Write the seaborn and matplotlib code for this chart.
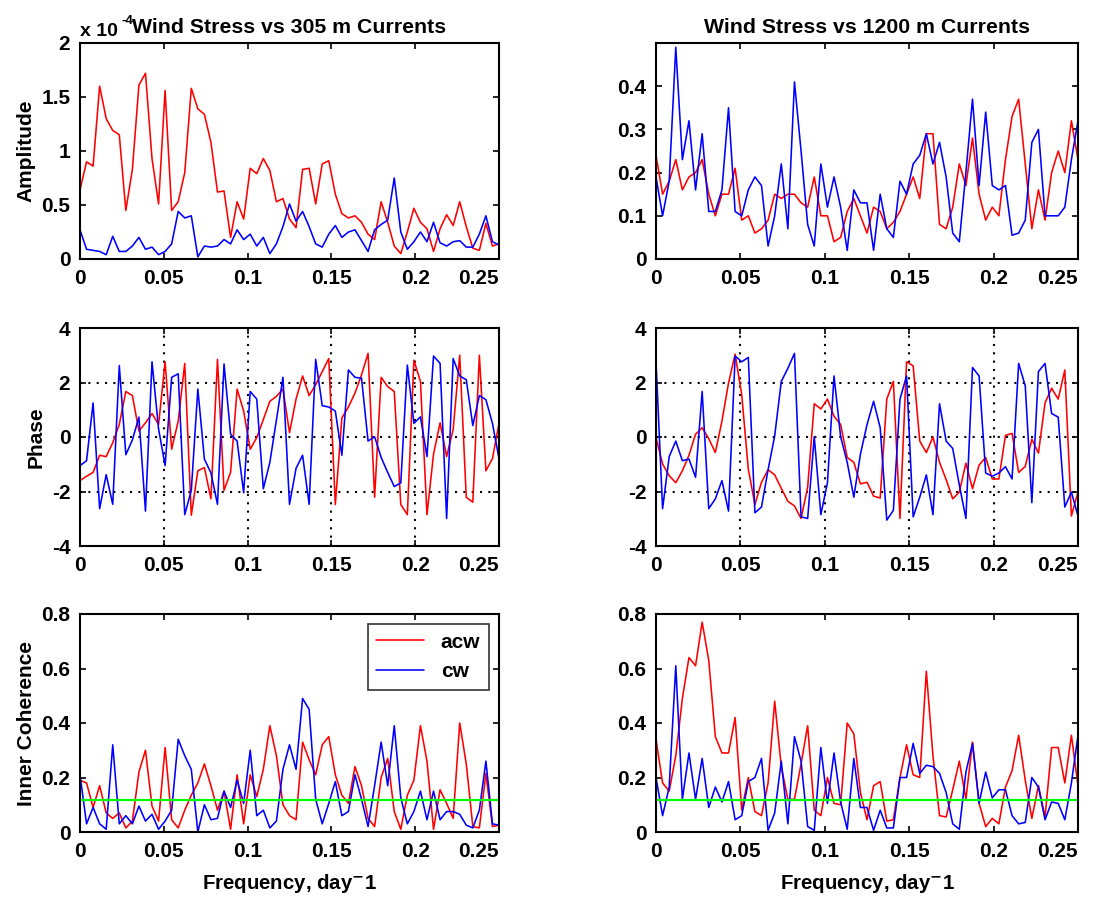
import numpy as np
import pandas as pd
import matplotlib
matplotlib.use("Agg")
import matplotlib.pyplot as plt
import seaborn as sns

# frequency grid, day^-1 (65 estimates, 0 .. 0.25)
freq = np.arange(65) / 256

# amplitude, 305 m (x 1e-4)
amp305_acw = [0.64, 0.90, 0.86, 1.60, 1.30, 1.19, 1.15, 0.45, 0.83, 1.61, 1.72, 0.93, 0.51, 1.56, 0.45, 0.53,
              0.80, 1.58, 1.39, 1.34, 1.08, 0.62, 0.63, 0.20, 0.53, 0.37, 0.84, 0.79, 0.93, 0.82, 0.53, 0.56,
              0.37, 0.29, 0.83, 0.84, 0.51, 0.88, 0.91, 0.60, 0.42, 0.38, 0.40, 0.34, 0.23, 0.18, 0.53, 0.34,
              0.12, 0.05, 0.25, 0.47, 0.34, 0.28, 0.07, 0.28, 0.41, 0.31, 0.53, 0.30, 0.10, 0.08, 0.33, 0.12, 0.14]
amp305_cw = [0.27, 0.09, 0.08, 0.07, 0.04, 0.21, 0.07, 0.07, 0.12, 0.20, 0.09, 0.11, 0.04, 0.07, 0.14, 0.44,
             0.38, 0.40, 0.02, 0.12, 0.11, 0.12, 0.18, 0.14, 0.27, 0.18, 0.23, 0.12, 0.20, 0.05, 0.14, 0.30,
             0.51, 0.35, 0.44, 0.30, 0.14, 0.11, 0.23, 0.31, 0.20, 0.25, 0.27, 0.17, 0.07, 0.27, 0.32, 0.36,
             0.75, 0.25, 0.09, 0.16, 0.25, 0.16, 0.34, 0.15, 0.12, 0.16, 0.17, 0.11, 0.11, 0.23, 0.40, 0.16, 0.13]

# amplitude, 1200 m
amp1200_acw = [0.24, 0.15, 0.18, 0.23, 0.16, 0.19, 0.20, 0.23, 0.15, 0.10, 0.15, 0.15, 0.21, 0.09, 0.10, 0.06,
               0.07, 0.09, 0.15, 0.14, 0.15, 0.15, 0.13, 0.12, 0.19, 0.10, 0.10, 0.04, 0.05, 0.11, 0.14, 0.10,
               0.06, 0.12, 0.11, 0.07, 0.085, 0.11, 0.15, 0.19, 0.14, 0.29, 0.29, 0.08, 0.07, 0.12, 0.22, 0.17,
               0.28, 0.15, 0.09, 0.12, 0.10, 0.23, 0.33, 0.37, 0.22, 0.07, 0.16, 0.09, 0.20, 0.25, 0.20, 0.32, 0.23]
amp1200_cw = [0.19, 0.10, 0.18, 0.49, 0.23, 0.32, 0.16, 0.29, 0.11, 0.11, 0.16, 0.35, 0.11, 0.10, 0.16, 0.19,
              0.17, 0.03, 0.10, 0.22, 0.07, 0.41, 0.25, 0.08, 0.03, 0.22, 0.12, 0.19, 0.12, 0.02, 0.16, 0.13,
              0.13, 0.02, 0.15, 0.07, 0.05, 0.18, 0.15, 0.22, 0.24, 0.29, 0.22, 0.27, 0.19, 0.06, 0.04, 0.20,
              0.37, 0.17, 0.34, 0.17, 0.16, 0.17, 0.055, 0.06, 0.09, 0.27, 0.30, 0.10, 0.10, 0.10, 0.12, 0.23, 0.32]

# phase, 305 m
phase305_acw = [-1.60, -1.44, -1.30, -0.67, -0.72, -0.21, 0.46, 1.67, 1.52, 0.22, 0.52, 0.86, 0.46, 2.76, -0.45, 0.58,
                2.70, -2.87, -1.24, -1.12, -2.27, 2.85, -1.96, -1.30, 1.76, 0.95, -0.45, -0.02, 0.64, 1.31, 1.49, 1.76,
                0.16, 1.39, 2.24, 1.52, 1.92, 2.40, 2.88, -2.48, 0.70, 1.10, 1.61, 2.28, 3.07, -2.21, 2.19, 1.85,
                1.67, -2.48, -2.85, 2.82, 2.04, -2.85, -0.63, 0.52, -0.72, 0.28, 3.00, -2.21, -2.39, 3.00, -1.24, -0.79, 0.50]
phase305_cw = [-1.05, -0.87, 1.25, -2.63, -1.38, -2.47, 2.62, -0.65, -0.11, 0.73, -2.72, 2.76, 0.30, -1.05, 2.19, 2.32,
               -2.85, -1.96, 1.76, -0.81, -1.32, -2.47, 2.68, 0.10, -0.15, -2.05, 1.67, 1.39, -1.90, -0.93, 0.62, 2.19,
               -2.47, -1.15, -0.67, -2.47, 2.85, 1.15, 1.10, 0.95, -0.67, 2.46, 2.19, 2.16, -0.15, 0.01, -0.75, -1.30,
               -1.82, -1.68, 2.64, 0.50, 0.74, -0.72, 2.97, 2.70, -2.99, 2.88, 2.24, 2.10, 0.42, 1.52, 1.37, 0.50, -0.79]

# phase, 1200 m
phase1200_acw = [-0.02, -0.99, -1.42, -1.68, -1.24, -0.67, 0.10, 0.34, -0.06, -0.57, 0.58, 1.98, 3.04, 1.55, -1.18, -2.48,
                 -1.66, -1.20, -1.39, -1.88, -2.36, -2.53, -2.99, -1.84, 1.22, 1.03, 1.39, 0.76, 0.46, -0.75, -0.93, -1.72,
                 -1.66, -2.17, -2.24, 1.39, 2.04, -2.99, 2.76, 2.61, -0.15, -0.57, 0.00, -0.93, -1.56, -2.27, -2.02, -0.96,
                 -1.90, -1.03, -0.75, -1.54, -1.54, 0.06, 0.13, -1.30, -1.08, -0.08, -0.59, 1.25, 1.79, 1.39, 2.46, -2.90, -2.02]
phase1200_cw = [2.76, -2.63, -0.72, -0.15, -0.87, -0.81, -1.48, 1.67, -2.63, -2.27, -1.60, -2.72, 2.97, 2.76, 2.92, -2.78,
                -2.57, -1.20, 0.04, 2.04, 2.52, 3.07, -2.93, -2.99, 0.01, -2.85, -1.68, 2.24, 0.01, -0.93, -2.21, -0.63,
                0.45, 1.31, 0.34, -3.05, -2.69, 1.39, 2.24, -2.93, -2.21, -1.39, -2.85, 1.22, -0.15, -0.42, -1.76, -2.99,
                2.55, 2.24, -1.32, -1.44, -1.32, -1.09, -1.54, 2.70, 1.88, -2.41, 2.40, 2.70, 0.86, 0.73, -2.57, -2.02, -2.90]

# inner coherence, 305 m
coh305_acw = [0.19, 0.18, 0.09, 0.17, 0.07, 0.05, 0.07, 0.015, 0.04, 0.22, 0.30, 0.095, 0.04, 0.31, 0.045, 0.015,
              0.08, 0.135, 0.18, 0.25, 0.17, 0.08, 0.15, 0.01, 0.21, 0.03, 0.21, 0.13, 0.23, 0.39, 0.28, 0.10,
              0.06, 0.045, 0.33, 0.265, 0.21, 0.32, 0.35, 0.21, 0.135, 0.105, 0.24, 0.17, 0.05, 0.02, 0.20, 0.27,
              0.075, 0.01, 0.135, 0.19, 0.39, 0.26, 0.01, 0.155, 0.105, 0.05, 0.40, 0.25, 0.02, 0.015, 0.215, 0.02, 0.025]
coh305_cw = [0.21, 0.03, 0.09, 0.03, 0.01, 0.32, 0.03, 0.06, 0.03, 0.095, 0.04, 0.065, 0.01, 0.04, 0.08, 0.34,
             0.28, 0.23, 0.00, 0.10, 0.045, 0.05, 0.15, 0.09, 0.19, 0.105, 0.30, 0.06, 0.08, 0.015, 0.04, 0.23,
             0.32, 0.23, 0.49, 0.45, 0.12, 0.03, 0.105, 0.185, 0.06, 0.075, 0.21, 0.12, 0.02, 0.17, 0.33, 0.17,
             0.39, 0.125, 0.03, 0.075, 0.15, 0.045, 0.15, 0.045, 0.075, 0.075, 0.065, 0.025, 0.015, 0.08, 0.26, 0.03, 0.025]

# inner coherence, 1200 m
coh1200_acw = [0.34, 0.18, 0.15, 0.28, 0.49, 0.64, 0.61, 0.77, 0.63, 0.35, 0.29, 0.29, 0.42, 0.08, 0.20, 0.075,
               0.06, 0.18, 0.48, 0.24, 0.12, 0.12, 0.25, 0.39, 0.08, 0.06, 0.20, 0.105, 0.10, 0.40, 0.36, 0.145,
               0.045, 0.17, 0.185, 0.04, 0.045, 0.20, 0.32, 0.21, 0.20, 0.59, 0.28, 0.06, 0.055, 0.155, 0.26, 0.12,
               0.33, 0.105, 0.02, 0.05, 0.03, 0.165, 0.225, 0.355, 0.19, 0.05, 0.17, 0.055, 0.31, 0.31, 0.18, 0.355, 0.17]
coh1200_cw = [0.20, 0.06, 0.165, 0.61, 0.12, 0.29, 0.12, 0.27, 0.09, 0.165, 0.11, 0.185, 0.045, 0.06, 0.185, 0.20,
              0.27, 0.006, 0.07, 0.26, 0.03, 0.35, 0.26, 0.02, 0.006, 0.31, 0.105, 0.29, 0.11, 0.01, 0.27, 0.09,
              0.09, 0.006, 0.08, 0.015, 0.015, 0.20, 0.20, 0.325, 0.215, 0.245, 0.24, 0.215, 0.145, 0.03, 0.01, 0.22,
              0.325, 0.105, 0.22, 0.125, 0.155, 0.155, 0.06, 0.03, 0.035, 0.20, 0.165, 0.045, 0.11, 0.105, 0.045, 0.18, 0.355]

# significance level for coherence
coh_sig = 0.117

xticks = [0, 0.05, 0.1, 0.15, 0.2, 0.25]
xticklabels = ["0", "0.05", "0.1", "0.15", "0.2", "0.25"]

sns.set_style("ticks")
plt.rcParams["font.family"] = ["Liberation Sans", "DejaVu Sans"]
plt.rcParams["font.weight"] = "bold"
plt.rcParams["mathtext.default"] = "bf"
plt.rcParams["text.color"] = "black"
plt.rcParams["axes.labelcolor"] = "black"
plt.rcParams["xtick.color"] = "black"
plt.rcParams["ytick.color"] = "black"

FS = 15
TFS = 15.3
palette = {"acw": "red", "cw": "blue"}


def long_df(acw, cw):
    return pd.DataFrame({
        "freq": np.concatenate([freq, freq]),
        "value": np.concatenate([acw, cw]),
        "series": ["acw"] * len(acw) + ["cw"] * len(cw),
    })


fig = plt.figure(figsize=(11.06, 9.02), dpi=100)
W = 1106.0
H = 902.0
cols = [(80, 419), (656, 422)]
rows = [(43, 216), (328, 218), (614, 218)]

panels = [
    [(amp305_acw, amp305_cw), (amp1200_acw, amp1200_cw)],
    [(phase305_acw, phase305_cw), (phase1200_acw, phase1200_cw)],
    [(coh305_acw, coh305_cw), (coh1200_acw, coh1200_cw)],
]

axes = {}
for r, (top, h) in enumerate(rows):
    for c, (left, w) in enumerate(cols):
        ax = fig.add_axes([left / W, 1 - (top + h) / H, w / W, h / H])
        axes[(r, c)] = ax
        acw, cw = panels[r][c]
        df = long_df(acw, cw)
        sns.lineplot(data=df, x="freq", y="value", hue="series", palette=palette,
                     linewidth=1.15, ax=ax, legend=(r == 2 and c == 0))
        ax.set_xlim(0, 0.25)
        ax.set_xticks(xticks)
        ax.set_xticklabels(xticklabels, fontweight="bold")
        # last label sits inside the axis end, as in the original
        ax.get_xticklabels()[-1].set_horizontalalignment("right")
        ax.set_xlabel("")
        ax.set_ylabel("")
        ax.tick_params(axis="both", which="both", top=True, right=True, direction="in",
                       length=4.5, width=1.2, labelsize=FS, pad=7, colors="black")
        for sp in ax.spines.values():
            sp.set_visible(True)
            sp.set_linewidth(1.5)
            sp.set_color("black")

# amplitude rows
axes[(0, 0)].set_ylim(0, 2)
axes[(0, 0)].set_yticks([0, 0.5, 1, 1.5, 2])
axes[(0, 0)].set_yticklabels(["0", "0.5", "1", "1.5", "2"], fontweight="bold")
axes[(0, 0)].text(0.0, 1.015, "x 10", transform=axes[(0, 0)].transAxes,
                  fontsize=14, fontweight="bold", ha="left", va="bottom")
axes[(0, 0)].text(0.098, 1.075, "-4", transform=axes[(0, 0)].transAxes,
                  fontsize=9.5, fontweight="bold", ha="left", va="bottom")
axes[(0, 1)].set_ylim(0, 0.5)
axes[(0, 1)].set_yticks([0, 0.1, 0.2, 0.3, 0.4])
axes[(0, 1)].set_yticklabels(["0", "0.1", "0.2", "0.3", "0.4"], fontweight="bold")

axes[(0, 0)].set_title("Wind Stress vs 305 m Currents", fontsize=TFS, fontweight="bold", pad=7)
axes[(0, 1)].set_title("Wind Stress vs 1200 m Currents", fontsize=TFS, fontweight="bold", pad=7)
axes[(0, 0)].set_ylabel("Amplitude", fontsize=FS, fontweight="bold")

# phase rows
for c in range(2):
    ax = axes[(1, c)]
    ax.set_ylim(-4, 4)
    ax.set_yticks([-4, -2, 0, 2, 4])
    ax.set_yticklabels(["-4", "-2", "0", "2", "4"], fontweight="bold")
    for xv in xticks[1:-1]:
        ax.axvline(xv, color="black", linestyle=(0, (1, 3)), linewidth=1.5, zorder=0)
    for yv in [-2, 0, 2]:
        ax.axhline(yv, color="black", linestyle=(0, (1, 3)), linewidth=1.5, zorder=0)
axes[(1, 0)].set_ylabel("Phase", fontsize=FS, fontweight="bold")

# coherence rows
for c in range(2):
    ax = axes[(2, c)]
    ax.set_ylim(0, 0.8)
    ax.set_yticks([0, 0.2, 0.4, 0.6, 0.8])
    ax.set_yticklabels(["0", "0.2", "0.4", "0.6", "0.8"], fontweight="bold")
    ax.axhline(coh_sig, color="#00ff00", linewidth=1.6)
    ax.set_xlabel(r"Frequency, day$^{-}$1", fontsize=14.7, fontweight="bold", labelpad=8)
axes[(2, 0)].set_ylabel("Inner Coherence", fontsize=FS, fontweight="bold")

leg = axes[(2, 0)].legend(loc="upper right", frameon=True, fancybox=False,
                          edgecolor="black", handlelength=2.3, borderaxespad=0.5,
                          prop={"weight": "bold", "size": FS})
leg.get_frame().set_linewidth(1.2)

for r in range(3):
    fig.align_ylabels([axes[(r, 0)]])

fig.savefig("out.png", dpi=100)
plt.close(fig)
